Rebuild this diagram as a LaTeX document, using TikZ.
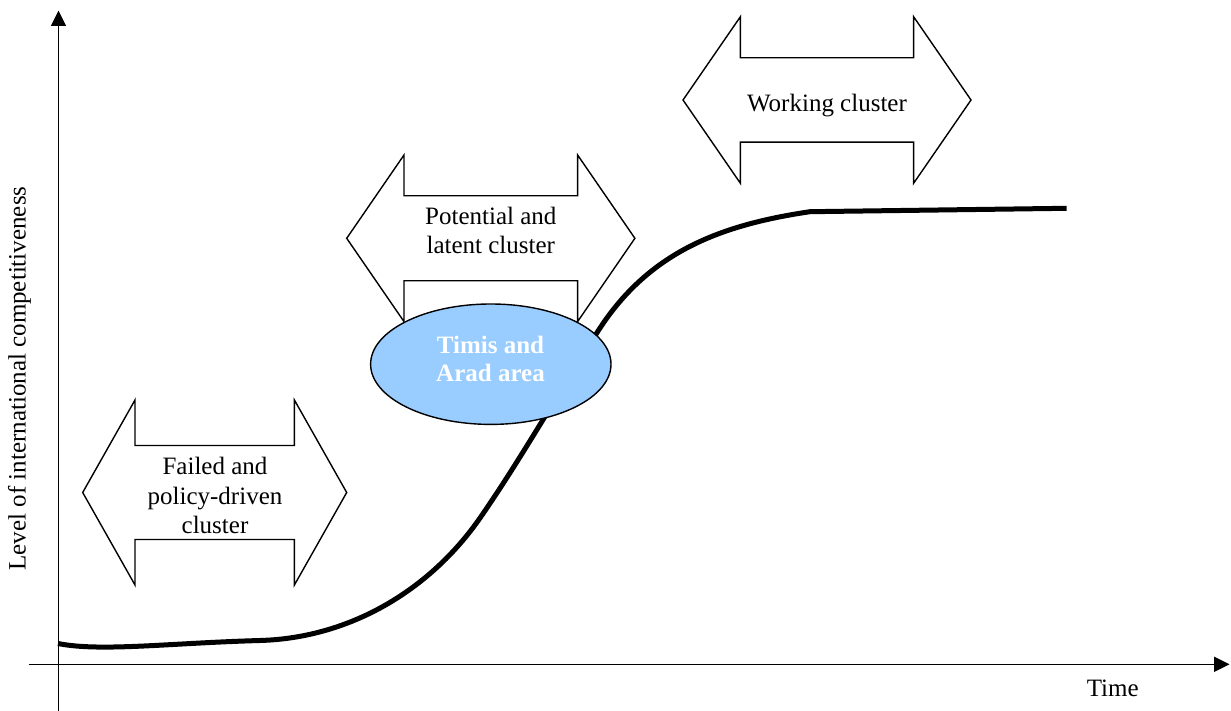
\documentclass[tikz,border=0pt]{standalone}
\usepackage{fontspec}
\setmainfont{Liberation Serif}
\usetikzlibrary{arrows.meta,shapes.geometric}
\definecolor{areablue}{RGB}{153,204,255}
% #1 cx, #2 cy, #3 half width, #4 head length, #5 shaft half height, #6 head half height
\newcommand\clusterarrow[6]{%
  \draw[arrowbox] ({#1-#3},#2) -- ({#1-#3+#4},{#2-#6}) -- ({#1-#3+#4},{#2-#5})
    -- ({#1+#3-#4},{#2-#5}) -- ({#1+#3-#4},{#2-#6}) -- ({#1+#3},#2)
    -- ({#1+#3-#4},{#2+#6}) -- ({#1+#3-#4},{#2+#5}) -- ({#1-#3+#4},{#2+#5})
    -- ({#1-#3+#4},{#2+#6}) -- cycle;}
\tikzset{
  arrowbox/.style={draw=black, fill=white, line width=1.4pt, line join=miter},
  lbl/.style={font=\fontsize{25}{29.5}\selectfont, align=center, inner sep=0pt},
  axis/.style={line width=1.5pt, -{Triangle[length=15.5pt,width=15pt]}},
  curve/.style={line width=5pt},
  area/.style={ellipse, draw=black, fill=areablue, line width=1.4pt,
    minimum width=240.4pt, minimum height=120.4pt, inner sep=0pt}
}
\begin{document}
\begin{tikzpicture}[x=1pt,y=-1pt]
\useasboundingbox (0,0) rectangle (1231,711);
\fill[white] (0,0) rectangle (1231,711);
% cluster arrows
\clusterarrow{214.7}{492.5}{132}{52.3}{47}{92.5}
\clusterarrow{490.8}{238.3}{144.1}{57.3}{42.5}{83.3}
\clusterarrow{827}{100}{144}{57.4}{42.2}{83.3}
\node[lbl] (failed) at (215,495.5) {Failed and\\policy-driven\\cluster};
\node[lbl] (potential) at (490.8,230.6) {Potential and\\latent cluster};
\node[lbl, anchor=base] (working) at (827,111.7) {Working cluster};
% axes
\coordinate (ytop) at (58.5,10.5);
\coordinate (ybot) at (58.5,711);
\coordinate (xleft) at (28.5,664.3);
\coordinate (xright) at (1229.5,664.3);
\draw[axis] (ybot) -- (ytop);
\draw[axis] (xleft) -- (xright);
% curve
\draw[curve] (58,643.5) .. controls (100,652) and (170,643) .. (260,640.5)
  .. controls (350,638) and (430,590) .. (480,518)
  .. controls (520,460.4) and (560,390) .. (600,328)
  .. controls (650,252) and (720,225) .. (810,211.7)
  -- (1066.7,208.3);
% area ellipse
\node[area] (area) at (490.8,364.2) {};
\node[lbl, font=\fontsize{25}{28.5}\selectfont\bfseries, text=white] (arealabel) at (490.5,359) {Timis and\\Arad area};
% axis labels
\node[lbl, anchor=base] (time) at (1112.7,696) {Time};
\node[lbl, anchor=base, rotate=90] (ylabel) at (25.7,378.5) {Level of international competitiveness};
\end{tikzpicture}
\end{document}
